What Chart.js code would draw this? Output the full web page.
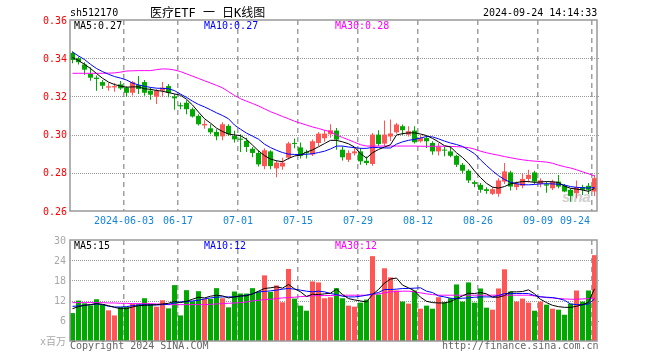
<!DOCTYPE html>
<html><head><meta charset="utf-8">
<script src="https://cdn.jsdelivr.net/npm/chart.js@4.4.1/dist/chart.umd.min.js"></script>
<style>
html,body{margin:0;padding:0;background:#fff;}
body{width:660px;height:360px;position:relative;overflow:hidden;font-family:"DejaVu Sans Mono",monospace;}
.t{position:absolute;font-size:10px;line-height:10px;white-space:pre;font-family:"DejaVu Sans Mono","Noto Sans CJK SC",monospace;}
#w1{position:absolute;left:0;top:0;width:660px;height:230px;}
#w2{position:absolute;left:0;top:225px;width:660px;height:135px;}
#wm{position:absolute;left:562px;top:188px;font:italic bold 15px "Liberation Sans",Arial,sans-serif;color:#d0d0d0;letter-spacing:-0.5px;}
</style></head><body>
<div id="wm">sina</div>
<div id="w1"><canvas id="c1" width="660" height="230"></canvas></div>
<div id="w2"><canvas id="c2" width="660" height="135"></canvas></div>
<div class="t" style="left:70px;top:8px;color:#000">sh512170</div>
<div class="t" style="left:150px;top:6px;font-size:12px;line-height:14px;color:#000">医疗ETF 一 日K线图</div>
<div class="t" style="left:483px;top:8px;color:#000">2024-09-24 14:14:33</div>
<div class="t" style="left:74px;top:21px;color:#000">MA5:0.27</div>
<div class="t" style="left:204px;top:21px;color:#0000ff">MA10:0.27</div>
<div class="t" style="left:335px;top:21px;color:#ff00ff">MA30:0.28</div>
<div class="t" style="left:74px;top:241px;color:#000">MA5:15</div>
<div class="t" style="left:204px;top:241px;color:#0000ff">MA10:12</div>
<div class="t" style="left:335px;top:241px;color:#ff00ff">MA30:12</div>
<div class="t" style="left:70px;top:341px;color:#666">Copyright 2024 SINA.COM</div>
<div class="t" style="left:442px;top:341px;color:#666">http://finance.sina.com.cn</div>
<script>
// ---------- data ----------
const dates = ['2024-05-21','2024-05-22','2024-05-23','2024-05-24','2024-05-27','2024-05-28','2024-05-29','2024-05-30','2024-05-31',
'2024-06-03','2024-06-04','2024-06-05','2024-06-06','2024-06-07','2024-06-11','2024-06-12','2024-06-13','2024-06-14',
'2024-06-17','2024-06-18','2024-06-19','2024-06-20','2024-06-21','2024-06-24','2024-06-25','2024-06-26','2024-06-27','2024-06-28',
'2024-07-01','2024-07-02','2024-07-03','2024-07-04','2024-07-05','2024-07-08','2024-07-09','2024-07-10','2024-07-11','2024-07-12',
'2024-07-15','2024-07-16','2024-07-17','2024-07-18','2024-07-19','2024-07-22','2024-07-23','2024-07-24','2024-07-25','2024-07-26',
'2024-07-29','2024-07-30','2024-07-31','2024-08-01','2024-08-02','2024-08-05','2024-08-06','2024-08-07','2024-08-08','2024-08-09',
'2024-08-12','2024-08-13','2024-08-14','2024-08-15','2024-08-16','2024-08-19','2024-08-20','2024-08-21','2024-08-22','2024-08-23',
'2024-08-26','2024-08-27','2024-08-28','2024-08-29','2024-08-30','2024-09-02','2024-09-03','2024-09-04','2024-09-05','2024-09-06',
'2024-09-09','2024-09-10','2024-09-11','2024-09-12','2024-09-13','2024-09-18','2024-09-19','2024-09-20','2024-09-23','2024-09-24'];

const tickDates  = ['2024-06-03','2024-06-17','2024-07-01','2024-07-15','2024-07-29','2024-08-12','2024-08-26','2024-09-09','2024-09-24'];
const tickLabels = ['2024-06-03','06-17','07-01','07-15','07-29','08-12','08-26','09-09','09-24'];

const open = [.3428,.3400,.3367,.3318,.3298,.3275,.3246,.3247,.3263,.3246,
.3219,.3260,.3275,.3230,.3198,.3230,.3254,.3200,.3154,.3167,
.3133,.3098,.3048,.3033,.3014,.2991,.3046,.2993,.2979,.2967,
.2926,.2904,.2835,.2912,.2823,.2833,.2879,.2956,.2933,.2910,
.2896,.2956,.2981,.3002,.3021,.2921,.2868,.2902,.2912,.2863,
.2846,.3000,.2953,.2990,.3012,.3044,.3000,.3021,.2965,.2982,
.2956,.2912,.2921,.2912,.2889,.2842,.2811,.2751,.2737,.2714,
.2690,.2690,.2754,.2802,.2725,.2732,.2768,.2802,.2742,.2740,
.2719,.2754,.2732,.2711,.2693,.2725,.2732,.2702];
const high = [.3437,.3409,.3379,.3353,.3310,.3286,.3270,.3270,.3280,.3253,
.3280,.3307,.3286,.3247,.3239,.3275,.3265,.3212,.3168,.3180,
.3142,.3107,.3075,.3054,.3028,.3065,.3054,.3020,.3002,.2984,
.2935,.2918,.2928,.2918,.2865,.2879,.2963,.2979,.2958,.2921,
.2975,.3014,.3023,.3054,.3035,.2939,.2918,.2930,.2930,.2885,
.3009,.3023,.3074,.3079,.3061,.3053,.3044,.3044,.2998,.2991,
.2965,.2956,.2935,.2935,.2895,.2851,.2819,.2760,.2746,.2725,
.2725,.2772,.2851,.2811,.2754,.2795,.2816,.2811,.2772,.2754,
.2763,.2789,.2742,.2719,.2760,.2737,.2746,.2789];
const low = [.3374,.3367,.3314,.3282,.3230,.3239,.3230,.3225,.3235,.3198,
.3205,.3212,.3204,.3182,.3160,.3198,.3195,.3130,.3133,.3107,
.3089,.3047,.3030,.3002,.2970,.2970,.2993,.2958,.2909,.2909,
.2882,.2833,.2818,.2818,.2777,.2816,.2870,.2928,.2875,.2875,
.2888,.2940,.2963,.2984,.2921,.2865,.2856,.2890,.2842,.2840,
.2837,.2939,.2939,.2965,.3005,.2998,.2990,.2953,.2958,.2930,
.2895,.2890,.2886,.2882,.2830,.2798,.2746,.2725,.2696,.2690,
.2684,.2675,.2742,.2707,.2710,.2719,.2749,.2742,.2725,.2696,
.2710,.2719,.2698,.2649,.2667,.2684,.2689,.2679];
const close = [.3391,.3379,.3340,.3298,.3291,.3256,.3253,.3254,.3242,.3219,
.3275,.3239,.3219,.3209,.3230,.3246,.3219,.3190,.3148,.3133,
.3095,.3054,.3056,.3012,.2991,.3054,.3002,.2975,.2973,.2935,
.2904,.2844,.2918,.2835,.2853,.2853,.2954,.2951,.2888,.2904,
.2965,.3005,.3005,.3023,.2974,.2881,.2904,.2912,.2860,.2851,
.3000,.2951,.3000,.3006,.3053,.3023,.3018,.2960,.2982,.2965,
.2912,.2935,.2916,.2889,.2842,.2811,.2760,.2742,.2711,.2705,
.2714,.2760,.2807,.2728,.2742,.2768,.2789,.2754,.2760,.2733,
.2754,.2728,.2702,.2679,.2725,.2711,.2711,.2772];

const ma5 = [.3403,.3388,.3368,.3346,.3320,.3295,.3275,.3262,.3254,.3248,
.3250,.3250,.3240,.3237,.3231,.3227,.3220,.3213,.3206,.3185,
.3155,.3118,.3083,.3060,.3034,.3016,.3003,.2998,.2995,.2975,
.2945,.2915,.2890,.2872,.2863,.2858,.2875,.2888,.2893,.2908,
.2920,.2936,.2953,.2970,.2970,.2962,.2952,.2935,.2900,.2877,
.2905,.2922,.2935,.2947,.2998,.3005,.3009,.3009,.3003,.2995,
.2980,.2962,.2942,.2935,.2905,.2880,.2850,.2810,.2775,.2745,
.2725,.2720,.2728,.2742,.2749,.2754,.2754,.2750,.2752,.2754,
.2753,.2749,.2730,.2719,.2715,.2710,.2703,.2718];
const ma10 = [.3432,.3412,.3393,.3368,.3346,.3330,.3316,.3304,.3296,.3286,
.3270,.3260,.3253,.3247,.3243,.3242,.3240,.3230,.3212,.3195,
.3175,.3158,.3145,.3130,.3114,.3100,.3083,.3050,.3028,.3008,
.2992,.2976,.2950,.2932,.2918,.2906,.2898,.2896,.2896,.2897,
.2900,.2906,.2913,.2925,.2940,.2940,.2935,.2932,.2928,.2928,
.2933,.2932,.2930,.2930,.2950,.2962,.2970,.2975,.2982,.2990,
.2988,.2978,.2966,.2956,.2948,.2938,.2920,.2900,.2868,.2838,
.2810,.2785,.2765,.2750,.2743,.2738,.2737,.2739,.2742,.2743,
.2742,.2740,.2736,.2728,.2724,.2722,.2720,.2723];
const ma30 = [.3321,.3321,.3321,.3321,.3321,.3321,.3322,.3323,.3327,.3333,
.3334,.3335,.3335,.3335,.3340,.3344,.3343,.3338,.3330,.3318,
.3306,.3294,.3282,.3270,.3258,.3245,.3225,.3205,.3188,.3175,
.3163,.3150,.3135,.3120,.3108,.3095,.3083,.3070,.3060,.3050,
.3040,.3032,.3023,.3015,.2998,.2985,.2973,.2960,.2947,.2940,
.2940,.2940,.2940,.2940,.2940,.2940,.2940,.2940,.2939,.2939,
.2939,.2939,.2939,.2938,.2937,.2935,.2932,.2924,.2913,.2905,
.2898,.2892,.2885,.2879,.2873,.2868,.2864,.2861,.2859,.2856,
.2850,.2840,.2832,.2825,.2816,.2805,.2795,.2783];

const volume = [8.3,12.0,11.2,10.6,12.4,10.9,9.1,7.6,10.1,10.1,
11.1,10.9,12.7,11.0,10.2,12.1,9.7,16.6,7.6,15.1,
11.8,14.8,12.5,12.5,15.7,12.7,10.0,14.7,14.1,14.1,
15.7,14.6,19.5,14.6,16.5,11.5,21.4,12.6,10.5,9.0,
17.7,17.4,12.7,13.0,15.7,12.7,10.5,10.2,11.4,12.3,
25.2,13.8,21.6,18.9,15.0,11.7,11.1,15.0,9.6,10.5,
9.6,13.0,11.5,12.7,16.8,11.7,17.4,11.4,15.6,9.9,
9.3,15.6,21.3,14.7,11.7,12.6,11.4,9.0,11.7,10.8,
9.6,9.3,7.8,11.1,15.0,11.7,15.0,25.5];
const vma5 = [9.6,10.2,10.6,10.8,11.1,10.9,10.5,10.0,9.6,9.6,
10.1,10.5,10.6,10.7,10.8,11.0,11.2,11.8,11.4,11.8,
12.4,13.0,12.8,13.3,13.6,13.4,12.8,13.1,13.4,13.4,
14.0,14.8,15.6,15.8,16.1,15.7,16.8,15.5,14.6,13.2,
13.9,13.8,14.0,14.2,15.4,13.8,12.6,12.2,11.9,11.6,
13.8,15.3,17.2,18.4,18.7,16.6,15.8,14.9,13.0,11.8,
11.4,11.3,11.3,11.7,12.6,13.4,14.2,14.1,14.4,14.0,
13.0,13.0,13.5,14.6,14.6,14.7,15.2,14.0,12.4,11.4,
10.6,10.2,10.0,10.0,10.3,10.8,11.5,15.5];
const vma10 = [10.3,10.4,10.6,10.8,11.0,10.8,10.3,10.1,10.1,10.2,
10.5,10.7,10.8,10.7,10.7,10.8,10.9,11.3,11.6,11.7,
11.9,12.1,12.5,12.8,13.0,13.1,13.1,13.1,13.3,13.6,
14.0,14.6,14.7,14.9,15.1,15.4,15.6,15.4,15.1,14.8,
14.6,14.8,14.6,14.1,13.8,13.3,13.1,13.1,13.3,13.6,
14.0,14.4,15.3,15.3,15.4,15.6,15.6,15.7,15.8,14.8,
14.4,13.4,13.1,12.7,12.6,12.7,12.8,13.0,13.1,13.1,
13.1,13.5,14.1,14.1,14.1,14.1,14.1,13.5,13.1,13.0,
12.9,12.6,12.1,11.0,10.8,10.8,11.0,12.5];
const vma30 = [11.4,11.4,11.4,11.4,11.4,11.4,11.3,11.3,11.2,11.2,
11.1,11.1,11.1,11.1,11.0,10.9,10.8,10.8,10.8,10.8,
10.8,10.8,10.8,10.9,11.0,11.1,11.2,11.3,11.4,11.6,
11.9,12.1,12.3,12.4,12.6,12.8,12.9,13.0,13.2,13.3,
13.4,13.5,13.5,13.5,13.6,13.6,13.6,13.6,13.6,13.6,
13.8,14.0,14.3,14.6,14.7,14.8,14.8,14.6,14.3,14.0,
13.8,13.6,13.6,13.6,13.6,13.6,13.6,13.6,13.6,13.6,
13.6,13.6,13.6,13.6,13.6,13.6,13.6,13.4,13.2,12.9,
12.8,12.6,12.5,12.4,12.4,12.5,12.6,12.8];

// ---------- styling ----------
const RED = '#ff5555', GREEN = '#00a800';
const MONO = '"DejaVu Sans Mono","Noto Sans CJK SC",monospace';
const up = close.map((c, i) => c >= open[i]);
const barColors = up.map(u => u ? RED : GREEN);
const tickIdx = tickDates.map(d => dates.indexOf(d));
const N = dates.length;
const X_MIN = -5 / 12;
const pts = arr => arr.map((v, i) => ({x: i, y: v}));
const lineDs = (arr, color) => ({type: 'line', data: pts(arr), borderColor: color, borderWidth: 1,
  pointRadius: 0, tension: 0, order: 0, fill: false});

function decoPlugin(drawXLabels) {
  return {
    id: 'deco',
    beforeDatasetsDraw(chart) {
      const ctx = chart.ctx, a = chart.chartArea, ys = chart.scales.y;
      ctx.save();
      ctx.lineWidth = 1;
      ctx.strokeStyle = '#999999';
      ctx.setLineDash([1, 1]);
      ys.ticks.forEach(t => {
        if (t.value <= ys.min + 1e-9 || t.value >= ys.max - 1e-9) return;
        const py = Math.round(ys.getPixelForValue(t.value)) + 0.5;
        ctx.beginPath(); ctx.moveTo(a.left, py); ctx.lineTo(a.right + 2, py); ctx.stroke();
      });
      ctx.restore();
    },
    afterDraw(chart) {
      const ctx = chart.ctx, a = chart.chartArea, xs = chart.scales.x;
      ctx.save();
      ctx.strokeStyle = '#999';
      ctx.lineWidth = 1.5;
      ctx.setLineDash([]);
      ctx.strokeRect(a.left, a.top, a.right - a.left - 1, a.bottom - a.top);
      if (drawXLabels) {
        ctx.fillStyle = '#1585d8';
        ctx.font = '10px ' + MONO;
        ctx.textBaseline = 'middle';
        tickIdx.forEach((k, j) => {
          const px = Math.round(xs.getPixelForValue(k) - 2.5);
          const last = j === tickIdx.length - 1;
          ctx.textAlign = last ? 'right' : 'center';
          ctx.fillText(tickLabels[j], last ? px - 2 : px, a.bottom + 10);
        });
      }
      ctx.restore();
    }
  };
}

// x axis: its grid supplies the dashed vertical date lines (at each date bar's left edge)
const makeX = () => ({
  type: 'linear', display: true, offset: false, min: X_MIN, max: N - 1 + 7 / 12,
  afterBuildTicks(s) { s.ticks = tickIdx.map(k => ({value: k + X_MIN})); },
  ticks: {display: false},
  grid: {display: true, drawTicks: false, offset: false, color: '#a0a0a0', lineWidth: 1.5},
  border: {display: false, dash: [5, 4]}
});

new Chart(document.getElementById('c1'), {
  data: {
    datasets: [
      lineDs(ma5, '#000000'),
      lineDs(ma10, '#0000ff'),
      lineDs(ma30, '#ff00ff'),
      {type: 'bar', data: dates.map((d, i) => ({x: i, y: [open[i], close[i]]})), backgroundColor: barColors,
        barThickness: 5, grouped: false, order: 1, inflateAmount: 0, minBarLength: 1},
      {type: 'bar', data: dates.map((d, i) => ({x: i, y: [low[i], high[i]]})), backgroundColor: barColors,
        barThickness: 1, grouped: false, order: 2, inflateAmount: 0}
    ]
  },
  options: {
    responsive: false, animation: false, devicePixelRatio: 1,
    layout: {padding: {left: 0, right: 62, top: 20, bottom: 19}},
    plugins: {legend: {display: false}, tooltip: {enabled: false}},
    scales: {
      x: makeX(),
      y: {min: 0.26, max: 0.36, afterFit(s) { s.width = 70; },
        grid: {display: false, drawTicks: false}, border: {display: false},
        ticks: {stepSize: 0.02, padding: 3, labelOffset: 1, color: '#ff0000',
          font: {family: MONO, size: 10}, callback: v => v.toFixed(2)}}
    }
  },
  plugins: [decoPlugin(true)]
});

new Chart(document.getElementById('c2'), {
  data: {
    datasets: [
      lineDs(vma5, '#000000'),
      lineDs(vma10, '#0000ff'),
      lineDs(vma30, '#ff00ff'),
      {type: 'bar', data: volume.map((v, i) => ({x: i, y: v})), backgroundColor: barColors,
        barThickness: 5, grouped: false, order: 1, inflateAmount: 0}
    ]
  },
  options: {
    responsive: false, animation: false, devicePixelRatio: 1,
    layout: {padding: {left: 0, right: 62, top: 15, bottom: 19}},
    plugins: {legend: {display: false}, tooltip: {enabled: false}},
    scales: {
      x: makeX(),
      y: {min: 0, max: 30, afterFit(s) { s.width = 70; },
        grid: {display: false, drawTicks: false}, border: {display: false},
        ticks: {stepSize: 6, padding: 4, labelOffset: 1, color: '#a8a8a8',
          font: {family: MONO, size: 10}, callback: v => v === 0 ? 'x百万' : String(v)}}
    }
  },
  plugins: [decoPlugin(false)]
});
</script>
</body></html>
